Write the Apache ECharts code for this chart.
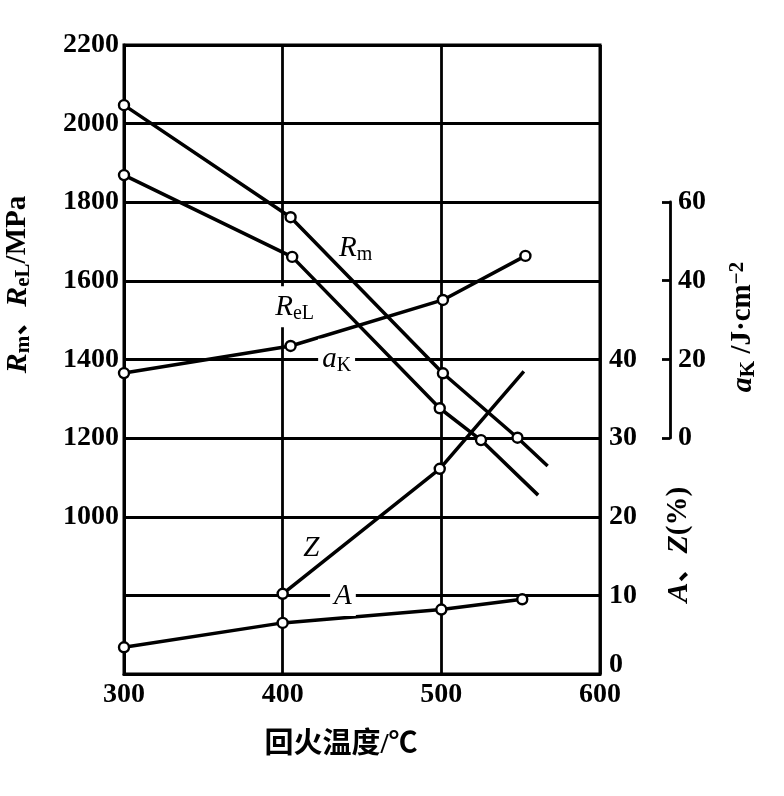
<!DOCTYPE html>
<html>
<head>
<meta charset="utf-8">
<script src="https://cdn.jsdelivr.net/npm/echarts@6/dist/echarts.min.js"></script>
<style>html,body{margin:0;padding:0;background:#fff;}#c{width:784px;height:796px;}</style>
</head>
<body>
<div id="c"></div>
<script>
// Data (temperature °C, value)
const rmData = [[300, 2047], [405, 1762], [501, 1365], [548, 1201]];
const rmExtend = [567, 1129];
const relData = [[300, 1869], [406, 1661], [499, 1276], [525, 1195]];
const relExtend = [561, 1055];
const akData = [[300, 16.5], [405, 23.4], [501, 35.1], [553, 46.3]];
const zData = [[400, 10.2], [499, 26.1]];
const zExtend = [552, 38.5];
const aData = [[300, 3.4], [400, 6.5], [500, 8.2], [551, 9.5]];

const SERIF = "'Liberation Serif','DejaVu Serif',serif";
const CJK = "'Liberation Serif','Noto Sans CJK SC',serif";
const BLACK = '#000';
const W = 'bold';

const richBase = {
  i: {fontFamily: SERIF, fontStyle: 'italic', fontSize: 29, color: BLACK, lineHeight: 32},
  s: {fontFamily: SERIF, fontSize: 20, color: BLACK, lineHeight: 17, verticalAlign: 'bottom'},
  n: {fontFamily: CJK, fontSize: 28, color: BLACK, lineHeight: 32},
  u: {fontFamily: SERIF, fontSize: 20, color: BLACK, lineHeight: 15, verticalAlign: 'top'}
};
const richName = {
  i: Object.assign({}, richBase.i, {fontSize: 30, fontWeight: W}),
  s: Object.assign({}, richBase.s, {fontSize: 21, fontWeight: W}),
  n: Object.assign({}, richBase.n, {fontSize: 29, fontWeight: W}),
  u: Object.assign({}, richBase.u, {fontSize: 21, fontWeight: W})
};

function withExt(data, ext) {
  const d = data.slice();
  if (ext) d.push({value: ext, symbol: 'none'});
  return d;
}
function tag(text, coord, bg) {
  return {
    coord: coord, symbol: 'circle', symbolSize: 0,
    label: {show: true, position: 'inside', formatter: text, rich: richBase,
      backgroundColor: bg ? '#fff' : 'transparent', padding: [5, 4, 4, 4]}
  };
}
const lineStyle = {color: BLACK, width: 3.5};
const itemStyle = {color: '#fff', borderColor: BLACK, borderWidth: 2.4};
const tickFont = {fontFamily: SERIF, fontSize: 28, fontWeight: W, color: BLACK};

const chart = echarts.init(document.getElementById('c'));
chart.setOption({
  backgroundColor: '#fff',
  animation: false,
  grid: [
    {left: 124, right: 184, top: 45, bottom: 122, show: true, borderColor: BLACK, borderWidth: 3,
      outerBoundsMode: 'none', containLabel: false},
    {left: 124, right: 184, top: 202, bottom: 358, outerBoundsMode: 'none', containLabel: false},
    {left: 124, right: 184, top: 359.5, bottom: 122, outerBoundsMode: 'none', containLabel: false}
  ],
  xAxis: [
    {gridIndex: 0, type: 'value', min: 300, max: 600, interval: 100,
      name: '回火温度/℃', nameLocation: 'middle', nameGap: 57,
      nameTextStyle: {fontFamily: CJK, fontSize: 29, fontWeight: W, color: BLACK, padding: [0, 42, 0, 0]},
      axisLine: {show: true, lineStyle: {color: BLACK, width: 3}},
      axisTick: {show: false},
      axisLabel: Object.assign({margin: 7}, tickFont),
      splitLine: {show: true, lineStyle: {color: BLACK, width: 2.8}}},
    {gridIndex: 1, type: 'value', min: 300, max: 600, show: false},
    {gridIndex: 2, type: 'value', min: 300, max: 600, show: false}
  ],
  yAxis: [
    {gridIndex: 0, type: 'value', position: 'left', min: 600, max: 2200, interval: 200,
      name: '{i|R}{s|m}{n|、}{i|R}{s|eL}{n|/MPa}', nameLocation: 'middle', nameGap: 90, nameRotate: 90,
      nameTextStyle: {rich: richName, padding: [0, 0, 0, 150]},
      axisLine: {show: true, lineStyle: {color: BLACK, width: 3}},
      axisTick: {show: false},
      axisLabel: Object.assign({margin: 5, formatter: v => (v >= 1000 ? String(v) : '')}, tickFont),
      splitLine: {show: true, lineStyle: {color: BLACK, width: 2.8}}},
    {gridIndex: 1, type: 'value', position: 'right', offset: 70, min: 0, max: 60, interval: 20,
      name: '{i|a}{s|K}{n| /J·cm}{u|−2}', nameLocation: 'middle', nameGap: 57, nameRotate: 90,
      nameTextStyle: {rich: richName, padding: [0, 14, 0, 0]},
      axisLine: {show: true, lineStyle: {color: BLACK, width: 2.8}},
      axisTick: {show: true, inside: true, length: 8, lineStyle: {color: BLACK, width: 2.8}},
      axisLabel: Object.assign({margin: 8}, tickFont),
      splitLine: {show: false}},
    {gridIndex: 2, type: 'value', position: 'right', min: 0, max: 40, interval: 10,
      name: '{i|A}{n|、}{i|Z}{n|(%)}', nameLocation: 'middle', nameGap: 63, nameRotate: 90,
      nameTextStyle: {rich: richName, padding: [0, 56, 0, 0]},
      axisLine: {show: false},
      axisTick: {show: false},
      axisLabel: Object.assign({margin: 9,
        formatter: v => (v === 0 ? '{z|0}' : String(v)),
        rich: {z: Object.assign({padding: [0, 0, 18, 0]}, tickFont)}}, tickFont),
      splitLine: {show: false}}
  ],
  series: [
    {name: 'Rm', type: 'line', xAxisIndex: 0, yAxisIndex: 0, clip: false,
      data: withExt(rmData, rmExtend), symbol: 'circle', symbolSize: 10,
      lineStyle: lineStyle, itemStyle: itemStyle,
      markPoint: {data: [tag('{i|R}{s|m}', [446, 1684], false)]}},
    {name: 'ReL', type: 'line', xAxisIndex: 0, yAxisIndex: 0, clip: false,
      data: withExt(relData, relExtend), symbol: 'circle', symbolSize: 10,
      lineStyle: lineStyle, itemStyle: itemStyle,
      markPoint: {data: [tag('{i|R}{s|eL}', [407.5, 1534], true)]}},
    {name: 'aK', type: 'line', xAxisIndex: 1, yAxisIndex: 1, clip: false,
      data: akData, symbol: 'circle', symbolSize: 10,
      lineStyle: lineStyle, itemStyle: itemStyle,
      markPoint: {data: [tag('{i|a}{s|K}', [434, 20], true)]}},
    {name: 'Z', type: 'line', xAxisIndex: 2, yAxisIndex: 2, clip: false,
      data: withExt(zData, zExtend), symbol: 'circle', symbolSize: 10,
      lineStyle: lineStyle, itemStyle: itemStyle,
      markPoint: {data: [tag('{i|Z}', [418, 16], false)]}},
    {name: 'A', type: 'line', xAxisIndex: 2, yAxisIndex: 2, clip: false,
      data: aData, symbol: 'circle', symbolSize: 10,
      lineStyle: lineStyle, itemStyle: itemStyle,
      markPoint: {data: [tag('{i|A}', [438, 10], true)]}}
  ]
});
</script>
</body>
</html>
